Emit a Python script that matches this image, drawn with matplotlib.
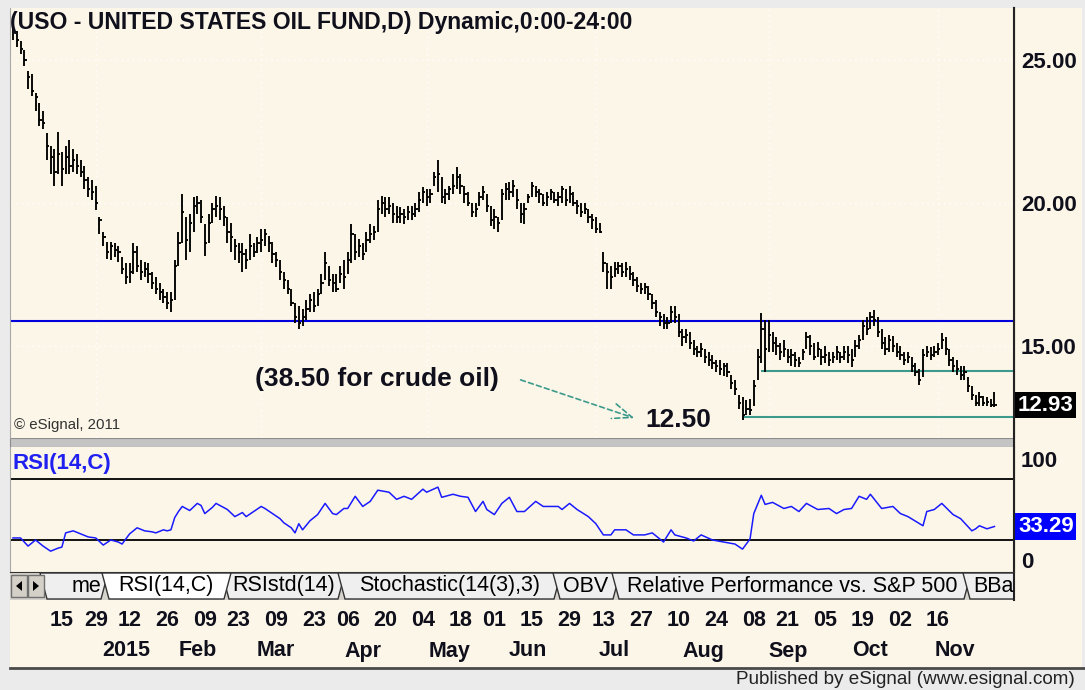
import matplotlib
matplotlib.use("Agg")
import matplotlib.pyplot as plt
import numpy as np
from matplotlib import font_manager
from matplotlib.patches import Rectangle, Polygon
from matplotlib.transforms import blended_transform_factory

W, H = 1085, 690
CREAM = "#fcf6e8"
plt.rcParams["font.family"] = ["Liberation Sans", "DejaVu Sans"]
installed = {f.name for f in font_manager.fontManager.ttflist}
if "Liberation Sans Narrow" in installed:
    DATE_FONT, DATE_SIZE = ["Liberation Sans Narrow", "DejaVu Sans"], 17.5
else:
    DATE_FONT, DATE_SIZE = ["Liberation Sans", "DejaVu Sans"], 15.5

# USO daily bars, 25 Nov 2014 .. early Dec 2015 (bar index = trading day)
high = [
    26.45, 26.0, 25.65, 25.35, 24.6, 24.5, 23.85, 23.5, 23.2, 22.45,
    22.0, 21.9, 22.5, 21.8, 22.0, 22.2, 21.9, 21.7, 21.5, 21.3,
    20.9, 20.8, 20.6, 19.5, 19.0, 18.65, 18.65, 18.6, 18.5, 18.1,
    17.9, 17.9, 18.6, 18.5, 18.0, 17.95, 17.9, 17.6, 17.4, 17.2,
    17.0, 16.9, 16.9, 18.0, 19.0, 20.3, 19.5, 19.6, 20.2, 20.25,
    20.1, 19.25, 19.6, 20.0, 20.25, 20.2, 19.9, 19.5, 19.3, 18.75,
    18.6, 18.6, 18.4, 18.9, 18.6, 18.8, 19.1, 19.1, 18.85, 18.65,
    18.3, 18.0, 17.6, 17.3, 17.0, 16.5, 16.4, 16.3, 16.6, 16.8,
    16.9, 17.0, 17.5, 18.3, 17.8, 17.5, 17.5, 17.8, 18.0, 18.3,
    19.25, 18.9, 18.75, 18.6, 19.0, 19.25, 19.2, 20.1, 20.25, 20.2,
    20.2, 20.0, 19.9, 19.85, 19.8, 19.9, 19.9, 20.0, 20.4, 20.55,
    20.5, 20.5, 21.1, 21.5, 20.9, 20.5, 20.6, 21.0, 21.25, 21.0,
    20.6, 20.4, 20.0, 20.0, 20.4, 20.6, 20.3, 19.9, 19.8, 19.5,
    20.5, 20.7, 20.75, 20.8, 20.5, 20.0, 20.0, 20.3, 20.75, 20.6,
    20.5, 20.3, 20.4, 20.5, 20.4, 20.4, 20.6, 20.5, 20.6, 20.4,
    20.1, 20.0, 20.0, 19.8, 19.6, 19.5, 19.3, 18.3, 17.9, 17.8,
    17.95, 17.95, 17.9, 17.95, 17.8, 17.6, 17.4, 17.2, 17.2, 17.1,
    16.8, 16.6, 16.2, 16.1, 16.0, 16.4, 16.4, 16.1, 15.6, 15.6,
    15.5, 15.2, 15.0, 15.1, 14.9, 14.8, 14.7, 14.5, 14.5, 14.4,
    14.4, 14.0, 13.8, 13.3, 13.2, 13.1, 13.15, 13.8, 14.9, 16.15,
    15.9, 15.9, 15.5, 15.3, 15.1, 15.2, 14.9, 14.9, 14.8, 14.6,
    14.9, 15.5, 15.4, 15.1, 15.15, 14.9, 15.0, 14.8, 14.8, 15.0,
    14.8, 15.0, 15.0, 14.9, 15.2, 15.4, 15.9, 16.0, 16.2, 16.25,
    16.0, 15.6, 15.3, 15.4, 15.35, 15.1, 15.0, 14.8, 14.8, 14.6,
    14.4, 14.2, 14.9, 15.0, 14.95, 15.0, 15.1, 15.45, 15.3, 14.9,
    14.6, 14.5, 14.3, 14.3, 13.9, 13.6, 13.3, 13.4, 13.25, 13.2,
    13.15, 13.4]
low = [
    25.7, 25.45, 25.2, 24.8, 24.0, 23.75, 23.2, 22.7, 22.6, 21.5,
    21.0, 20.6, 21.0, 20.6, 21.0, 21.0, 21.1, 21.0, 20.9, 20.5,
    20.2, 20.1, 19.75, 18.9, 18.5, 18.05, 18.0, 18.1, 17.95, 17.5,
    17.15, 17.2, 17.5, 17.6, 17.3, 17.4, 17.2, 17.0, 16.8, 16.6,
    16.5, 16.3, 16.2, 16.6, 17.8, 18.6, 18.0, 18.3, 19.0, 19.6,
    19.3, 18.15, 18.6, 19.3, 19.5, 19.4, 19.2, 18.6, 18.3, 18.0,
    17.9, 17.6, 17.7, 18.0, 18.1, 18.25, 18.3, 18.5, 18.3, 17.9,
    17.75, 17.3, 17.0, 16.8, 16.4, 15.8, 15.6, 15.7, 15.9, 16.2,
    16.2, 16.4, 16.8, 17.3, 17.1, 16.9, 16.9, 17.2, 17.0, 17.5,
    17.9, 18.0, 18.1, 18.0, 18.3, 18.6, 18.7, 19.0, 19.6, 19.5,
    19.6, 19.3, 19.3, 19.3, 19.25, 19.4, 19.4, 19.5, 19.7, 20.0,
    19.9, 20.0, 20.6, 20.4, 20.0, 19.95, 20.1, 20.3, 20.5, 20.3,
    20.0, 19.9, 19.5, 19.5, 19.9, 20.1, 19.7, 19.2, 19.1, 19.0,
    19.4, 20.1, 20.1, 20.2, 19.8, 19.3, 19.25, 20.0, 20.2, 20.2,
    20.0, 19.9, 19.9, 20.1, 20.0, 19.9, 20.0, 19.9, 20.0, 19.9,
    19.6, 19.5, 19.6, 19.3, 19.1, 18.95, 18.95, 17.6, 17.0, 17.0,
    17.4, 17.5, 17.4, 17.4, 17.3, 17.1, 16.9, 16.8, 16.8, 16.6,
    16.3, 16.0, 15.7, 15.6, 15.6, 15.8, 15.8, 15.3, 15.0, 15.1,
    14.9, 14.7, 14.6, 14.6, 14.4, 14.3, 14.2, 14.1, 14.0, 13.95,
    13.9, 13.5, 13.3, 12.8, 12.4, 12.6, 12.6, 12.9, 13.8, 14.4,
    14.1, 14.8, 14.8, 14.7, 14.5, 14.6, 14.4, 14.3, 14.25, 14.25,
    14.5, 14.9, 14.7, 14.5, 14.6, 14.35, 14.4, 14.3, 14.4, 14.5,
    14.4, 14.5, 14.4, 14.25, 14.6, 14.9, 15.2, 15.4, 15.6, 15.7,
    15.3, 14.9, 14.7, 14.8, 14.8, 14.6, 14.5, 14.35, 14.4, 14.1,
    13.95, 13.65, 13.9, 14.6, 14.5, 14.6, 14.7, 14.9, 14.7, 14.3,
    14.1, 14.0, 13.8, 13.8, 13.4, 13.1, 12.9, 12.9, 12.9, 12.9,
    12.85, 12.85]
close = [
    26.05, 25.7, 25.4, 25.0, 24.4, 23.9, 23.7, 22.9, 22.8, 22.0,
    21.6, 21.1, 21.7, 21.2, 21.6, 21.3, 21.5, 21.3, 21.1, 20.8,
    20.5, 20.4, 20.0, 19.4, 18.8, 18.3, 18.5, 18.35, 18.3, 17.7,
    17.4, 17.6, 18.3, 17.8, 17.6, 17.7, 17.5, 17.2, 17.0, 16.9,
    16.7, 16.5, 16.6, 17.8, 18.6, 19.7, 18.7, 19.3, 19.9, 20.0,
    19.5, 18.6, 19.3, 19.8, 19.9, 19.8, 19.5, 19.0, 18.8, 18.5,
    18.3, 18.2, 18.0, 18.5, 18.3, 18.6, 18.7, 18.9, 18.6, 18.2,
    18.0, 17.6, 17.3, 17.0, 16.5, 16.0, 15.8, 16.0, 16.3, 16.6,
    16.4, 16.8, 17.2, 17.9, 17.3, 17.2, 17.0, 17.5, 17.4, 18.0,
    18.9, 18.3, 18.5, 18.2, 18.7, 18.9, 19.0, 19.8, 20.0, 19.8,
    19.9, 19.6, 19.5, 19.6, 19.5, 19.7, 19.6, 19.8, 20.1, 20.4,
    20.2, 20.3, 20.9, 21.0, 20.2, 20.3, 20.5, 20.6, 20.9, 20.6,
    20.3, 20.0, 19.7, 19.8, 20.2, 20.4, 19.9, 19.4, 19.5, 19.3,
    20.3, 20.5, 20.4, 20.6, 20.1, 19.6, 19.8, 20.2, 20.6, 20.4,
    20.3, 20.0, 20.2, 20.4, 20.1, 20.2, 20.5, 20.1, 20.3, 20.0,
    19.9, 19.7, 19.8, 19.5, 19.4, 19.1, 19.0, 17.9, 17.6, 17.4,
    17.7, 17.8, 17.6, 17.7, 17.5, 17.3, 17.1, 17.0, 17.05, 16.8,
    16.5, 16.2, 16.0, 15.8, 15.8, 16.2, 16.0, 15.5, 15.3, 15.4,
    15.1, 14.9, 14.8, 14.9, 14.6, 14.5, 14.4, 14.3, 14.2, 14.3,
    14.1, 13.7, 13.5, 13.0, 12.6, 12.8, 12.75, 13.6, 14.6, 15.6,
    14.9, 15.4, 15.1, 15.0, 14.8, 14.9, 14.6, 14.7, 14.5, 14.4,
    14.8, 15.3, 15.0, 14.6, 14.9, 14.6, 14.7, 14.5, 14.6, 14.8,
    14.6, 14.8, 14.7, 14.5, 15.0, 15.2, 15.7, 15.6, 16.0, 15.9,
    15.5, 15.1, 14.9, 15.2, 15.0, 14.8, 14.7, 14.5, 14.6, 14.3,
    14.1, 13.8, 14.7, 14.8, 14.7, 14.8, 14.9, 15.2, 14.9, 14.5,
    14.3, 14.2, 14.0, 14.1, 13.6, 13.3, 13.0, 13.2, 13.0, 13.05,
    12.95, 12.93]

# RSI(14)
rsi_bar = [0, 2, 4, 6, 8, 10, 12, 13, 14, 16, 18, 20, 22, 24, 26, 28, 29, 31, 33, 35,
           37, 38, 40, 41, 42, 43, 44, 45, 47, 49, 50, 51, 53, 54, 56, 57, 59, 61, 62, 64,
           66, 67, 69, 71, 72, 74, 75, 76, 77, 79, 81, 83, 85, 86, 88, 89, 91, 93, 95, 97,
           100, 102, 104, 106, 109, 110, 113, 114, 116, 117, 119, 121, 123, 125, 126, 128,
           130, 132, 134, 136, 139, 141, 145, 146, 148, 150, 153, 155, 157, 159, 160, 163,
           165, 168, 170, 173, 175, 176, 179, 181, 183, 186, 189, 192, 194, 196, 197, 199,
           200, 202, 205, 207, 209, 211, 214, 217, 219, 221, 223, 225, 227, 228, 231, 234,
           236, 238, 242, 243, 245, 247, 250, 252, 255, 256, 257, 259, 261]
rsi_val = [22, 22, 14, 20, 14, 9, 12, 13, 27, 29, 26, 23, 22, 15, 20, 18, 16, 26, 32, 29,
           28, 27, 30, 29, 30, 42, 48, 53, 49, 56, 54, 46, 52, 56, 52, 50, 43, 47, 43, 48,
           53, 51, 46, 41, 37, 32, 27, 36, 30, 39, 45, 56, 46, 45, 51, 51, 63, 53, 58, 69,
           67, 60, 63, 60, 70, 67, 72, 62, 64, 65, 63, 62, 48, 58, 50, 45,
           56, 62, 48, 48, 58, 53, 53, 50, 56, 50, 43, 36, 25, 25, 30, 30,
           25, 25, 27, 18, 30, 25, 22, 19, 25, 20, 18, 16, 11, 21, 46, 64,
           55, 57, 51, 53, 48, 56, 50, 51, 46, 50, 51, 63, 60, 65, 51, 53,
           46, 43, 34, 48, 50, 56, 45, 41, 29, 31, 34, 31, 33.29]

tick_bar = [13, 22, 31, 41, 51, 60, 70, 80, 89, 99, 109, 119, 128, 138, 148, 157,
            167, 177, 187, 197, 206, 216, 226, 236, 246]
tick_day = ["15", "29", "12", "26", "09", "23", "09", "23", "06", "20", "04", "18", "01",
            "15", "29", "13", "27", "10", "24", "08", "21", "05", "19", "02", "16"]
month_name = ["2015", "Feb", "Mar", "Apr", "May", "Jun", "Jul", "Aug", "Sep", "Oct", "Nov"]
month_bar = [30, 49, 70, 93, 116, 137, 160, 183.5, 206, 228, 250.5]

price_ticks = [25, 20, 15]
resistance = 15.87
support = [14.13, 12.5]
support_from = [199, 194]
last_price = 12.93
last_rsi = 33.29

assert len(high) == len(low) == len(close)
assert len(rsi_bar) == len(rsi_val)
bars = np.arange(len(close))


def fx(x):
    return x / W


def fy(y):
    return 1 - y / H


fig = plt.figure(figsize=(W / 100, H / 100), dpi=100)
fig.patch.set_facecolor("#ebebeb")

# background / frame pieces in pixel coordinates
bg = fig.add_axes([0, 0, 1, 1])
bg.set_xlim(0, W)
bg.set_ylim(H, 0)
bg.axis("off")
bg.add_patch(Rectangle((10, 8), 1072, 660, fc=CREAM, ec="none"))
bg.add_patch(Rectangle((10, 438), 1004, 9, fc="#c4c4c4", ec="#8c8c8c", lw=0.8))
bg.add_patch(Rectangle((10, 572), 1004, 28, fc="#d6d3cd", ec="none"))
bg.plot([1014, 1014], [8, 600], color="#222222", lw=1.5)
bg.plot([10, 1085], [668, 668], color="#4a4a4a", lw=2)

clip = Rectangle((10, 560), 1003, 50, transform=bg.transData)
tabs = ["me", "RSI(14,C)", "RSIstd(14)", "Stochastic(14(3),3)", "OBV",
        "Relative Performance vs. S&P 500", "BBa"]
tab_edges = [(40, 108), (102, 231), (222, 345), (338, 561), (553, 620), (612, 971), (963, 1045)]
tab_text_x = [86, 166, 284, 450, 586, 792, 973]
active = 1
order = [i for i in range(len(tabs)) if i != active] + [active]
for i in order:
    x0, x1 = tab_edges[i]
    poly = Polygon([(x0, 573), (x1, 573), (x1 - 7, 599), (x0 + 7, 599)],
                   fc="white" if i == active else "#efefef", ec="#333333", lw=1)
    bg.add_patch(poly)
    poly.set_clip_path(clip)
    t = bg.text(tab_text_x[i], 586, tabs[i], fontsize=15.5, color="black",
                ha="left" if i == len(tabs) - 1 else "center", va="center")
    t.set_clip_path(clip)
for bx in (11, 28):
    bg.add_patch(Rectangle((bx, 575), 16, 22, fc="#d4d0c8", ec="#707070", lw=1))
bg.add_patch(Polygon([(22, 581), (22, 591), (16, 586)], fc="black", ec="none"))
bg.add_patch(Polygon([(33, 581), (33, 591), (39, 586)], fc="black", ec="none"))

xlim = (-0.8, 266.2)

# price panel
ax = fig.add_axes([fx(10), fy(438), 1004 / W, 430 / H])
ax.set_facecolor(CREAM)
ax.set_xlim(*xlim)
ax.set_ylim(11.78, 26.82)
for y in price_ticks:
    ax.axhline(y, color="white", lw=1, ls=(0, (1, 3)), zorder=0)
for b in (22, 66, 110, 155, 201, 246):
    ax.axvline(b, color="white", lw=1, ls=(0, (1, 3)), zorder=0)
ax.axhline(resistance, color="#0000dd", lw=1.5)
ax.hlines(support, support_from, xlim[1], color="#3b9a8c", lw=1.5)
ax.vlines(bars, low, high, color="black", lw=1.35)
ax.hlines(close, bars, bars + 0.6, color="black", lw=1.35)
ax.yaxis.tick_right()
ax.set_yticks(price_ticks)
ax.set_yticklabels([f"{v:.2f}" for v in price_ticks])
ax.tick_params(axis="y", length=0, pad=5, labelsize=16, labelcolor="#10101c")
for lab in ax.get_yticklabels():
    lab.set_fontweight("bold")
ax.set_xticks([])
for s in ("top", "bottom"):
    ax.spines[s].set_visible(False)
ax.spines["left"].set_color("#a8a8a8")
ax.spines["right"].set_color("#222222")
ax.spines["right"].set_linewidth(1.5)
trans = blended_transform_factory(ax.transAxes, ax.transData)
ax.text(1.004, last_price, f"{last_price:.2f}", transform=trans, ha="left", va="center",
        fontsize=16, fontweight="bold", color="white",
        bbox=dict(boxstyle="square,pad=0.12", fc="black", ec="none"))

# RSI panel
ax2 = fig.add_axes([fx(10), fy(572), 1004 / W, 125 / H])
ax2.set_facecolor(CREAM)
ax2.set_xlim(*xlim)
ax2.set_ylim(-11.5, 111.5)
ax2.axhline(80, color="black", lw=1.3)
ax2.axhline(20, color="black", lw=1.3)
ax2.plot(rsi_bar, rsi_val, color="#1a1aff", lw=1.1)
ax2.yaxis.tick_right()
ax2.set_yticks([100, 0])
ax2.set_yticklabels(["100", "0"])
ax2.tick_params(axis="y", length=0, pad=5, labelsize=16, labelcolor="#10101c")
for lab in ax2.get_yticklabels():
    lab.set_fontweight("bold")
ax2.set_xticks([])
ax2.spines["top"].set_visible(False)
ax2.spines["left"].set_color("#a8a8a8")
ax2.spines["right"].set_color("#222222")
ax2.spines["right"].set_linewidth(1.5)
ax2.spines["bottom"].set_color("#333333")
trans2 = blended_transform_factory(ax2.transAxes, ax2.transData)
ax2.text(1.004, last_rsi, f"{last_rsi:.2f}", transform=trans2, ha="left", va="center",
         fontsize=16, fontweight="bold", color="white",
         bbox=dict(boxstyle="square,pad=0.12", fc="#0000ff", ec="none"))

# date axis
dtrans = blended_transform_factory(ax2.transData, fig.transFigure)
for b, d in zip(tick_bar, tick_day):
    ax2.text(b, fy(620), d, transform=dtrans, ha="center", va="center", family=DATE_FONT,
             fontsize=DATE_SIZE, fontweight="bold", color="#10101c")
for b, m in zip(month_bar, month_name):
    ax2.text(b, fy(651), m, transform=dtrans, ha="center", va="center", family=DATE_FONT,
             fontsize=DATE_SIZE, fontweight="bold", color="#10101c")

# texts
fig.text(fx(10), fy(22), "(USO - UNITED STATES OIL FUND,D) Dynamic,0:00-24:00",
         fontsize=16.6, fontweight="bold", color="#10101c", va="center", ha="left")
fig.text(fx(14), fy(425), "\u00a9 eSignal, 2011", fontsize=10.8, color="#333333",
         va="center", ha="left")
fig.text(fx(12), fy(463), "RSI(14,C)", fontsize=16, fontweight="bold", color="#2020f0",
         va="center", ha="left")
fig.text(fx(255), fy(379), "(38.50 for crude oil)", fontsize=19, fontweight="bold",
         color="#10101c", va="center", ha="left")
fig.text(fx(645), fy(420), "12.50", fontsize=19, fontweight="bold", color="#10101c",
         va="center", ha="left")
ax.annotate("", xy=(637, H - 419), xytext=(518, H - 379), xycoords="figure pixels",
            textcoords="figure pixels",
            arrowprops=dict(arrowstyle="->,head_length=1.4,head_width=0.55",
                            color="#3b9a8c", lw=1.2, linestyle=(0, (3, 2))))
fig.text(fx(1075), fy(680), "Published by eSignal (www.esignal.com)", fontsize=13.6,
         color="#222222", va="center", ha="right")

fig.savefig("out.png", dpi=100, facecolor=fig.get_facecolor())
